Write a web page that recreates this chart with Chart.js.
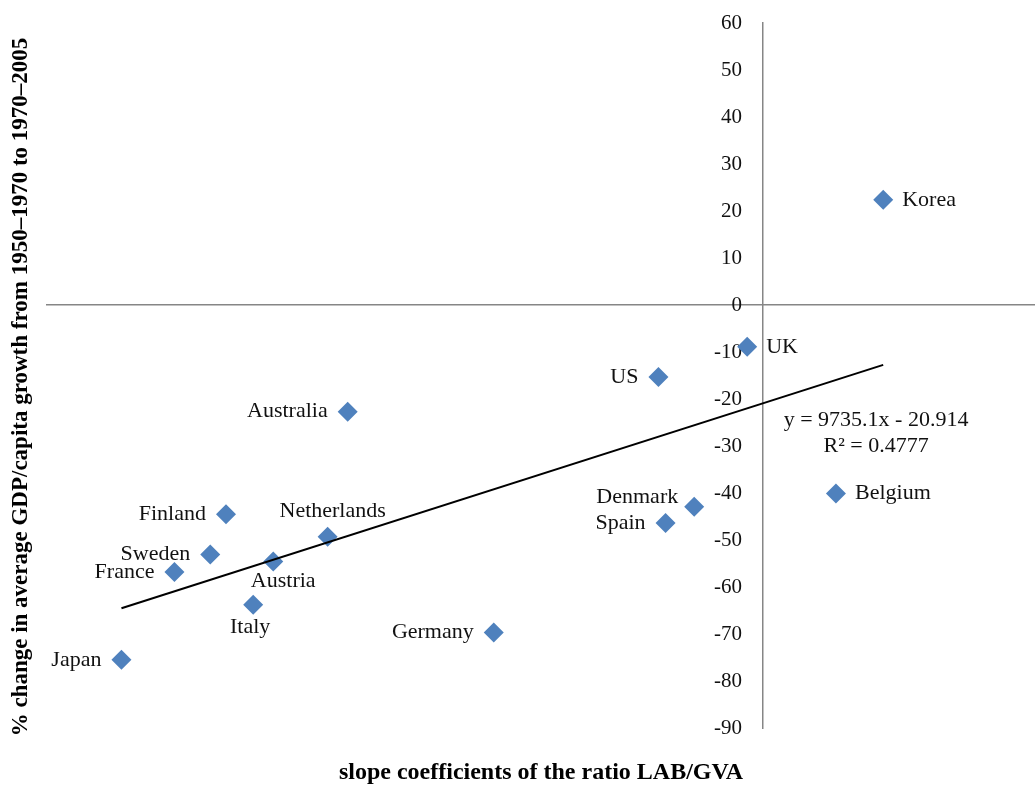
<!DOCTYPE html>
<html>
<head>
<meta charset="utf-8">
<script src="https://cdn.jsdelivr.net/npm/chart.js@4.4.0/dist/chart.umd.min.js"></script>
<style>
  html, body { margin: 0; padding: 0; background: #fff; }
</style>
</head>
<body>
<canvas id="myChartScatter" width="1035" height="785"></canvas>
<script>
// countries and their values
const countries = ['Japan', 'France', 'Sweden', 'Finland', 'Italy', 'Austria', 'Netherlands',
  'Australia', 'Germany', 'US', 'Spain', 'Denmark', 'UK', 'Belgium', 'Korea'];
const slopeCoef = [-0.00448, -0.00411, -0.00386, -0.00375, -0.00356, -0.00342, -0.00304,
  -0.00290, -0.00188, -0.00073, -0.00068, -0.00048, -0.00011, 0.00051, 0.00084];
const growthChange = [-75.5, -56.8, -53.1, -44.5, -63.8, -54.6, -49.3,
  -22.7, -69.7, -15.3, -46.4, -42.9, -8.9, -40.1, 22.4];

// where each country name goes relative to its marker
const labelSide = ['left', 'left', 'left', 'left', 'below', 'belowRight', 'above',
  'left', 'left', 'left', 'left', 'upLeft', 'right', 'right', 'right'];

// linear trend (least squares) as printed on the chart
const trendSlope = 9735.1;
const trendIntercept = -20.914;
const trendR2 = 0.4777;

// y axis
const yMin = -90;
const yMax = 60;
const yStep = 10;
// x axis range
const xMin = -0.005;
const xMax = 0.0019;

const xTitle = 'slope coefficients of the ratio LAB/GVA';
const yTitle = '% change in average GDP/capita growth from 1950\u20131970 to 1970\u20132005';

const serif = '"Liberation Serif", "Times New Roman", serif';

let points = [];
for (let i in countries) {
    points[i] = { x: slopeCoef[i], y: growthChange[i] };
}

let xLo = Math.min.apply(null, slopeCoef);
let xHi = Math.max.apply(null, slopeCoef);
let trendPoints = [
    { x: xLo, y: trendSlope * xLo + trendIntercept },
    { x: xHi, y: trendSlope * xHi + trendIntercept }
];

// country names next to the markers
const pointLabels = {
    id: 'pointLabels',
    afterDatasetsDraw(chart) {
        let ctx = chart.ctx;
        let meta = chart.getDatasetMeta(1);
        ctx.save();
        ctx.font = '22px ' + serif;
        ctx.fillStyle = '#111';
        meta.data.forEach(function (pt, i) {
            let x = pt.x, y = pt.y;
            ctx.textBaseline = 'middle';
            switch (labelSide[i]) {
                case 'left':
                    ctx.textAlign = 'right'; x -= 20; break;
                case 'upLeft':
                    ctx.textAlign = 'right'; x -= 16; y -= 9; break;
                case 'right':
                    ctx.textAlign = 'left'; x += 19; break;
                case 'above':
                    ctx.textAlign = 'center'; x += 5; y -= 25; break;
                case 'below':
                    ctx.textAlign = 'center'; x -= 3; y += 22; break;
                case 'belowRight':
                    ctx.textAlign = 'center'; x += 10; y += 20; break;
            }
            ctx.fillText(countries[i], x, y);
        });

        // trendline equation
        let xs = chart.scales.x, ys = chart.scales.y;
        let ex = xs.getPixelForValue(0.00079);
        ctx.textAlign = 'center';
        ctx.fillText('y = ' + trendSlope + 'x - ' + Math.abs(trendIntercept), ex, ys.getPixelForValue(-24.5));
        ctx.fillText('R\u00b2 = ' + trendR2, ex, ys.getPixelForValue(-30));
        ctx.restore();
    }
};

// axis titles, outside the plot area
const axisTitles = {
    id: 'axisTitles',
    afterDraw(chart) {
        let ctx = chart.ctx;
        ctx.save();
        ctx.fillStyle = '#000';
        ctx.textAlign = 'center';
        ctx.textBaseline = 'middle';
        ctx.font = 'bold 24px ' + serif;
        ctx.fillText(xTitle, 541, 773);
        ctx.font = 'bold 23px ' + serif;
        ctx.translate(21, 387);
        ctx.rotate(-Math.PI / 2);
        ctx.fillText(yTitle, 0, 0);
        ctx.restore();
    }
};

let canvas = document.getElementById('myChartScatter');
let myChartScatter = new Chart(canvas, {
    type: 'scatter',
    data: {
        datasets: [{
            type: 'line',
            label: 'Linear trend',
            data: trendPoints,
            borderColor: '#000',
            borderWidth: 2,
            pointRadius: 0,
            fill: false
        }, {
            label: 'Countries',
            data: points,
            pointStyle: 'rectRot',
            pointRadius: 10,
            pointHoverRadius: 10,
            backgroundColor: '#4F81BD',
            borderColor: '#4F81BD',
            borderWidth: 0
        }]
    },
    options: {
        responsive: false,
        animation: false,
        layout: {
            autoPadding: false,
            padding: { left: 47, right: 0, top: 23, bottom: 57 }
        },
        plugins: {
            legend: { display: false },
            tooltip: { enabled: false }
        },
        scales: {
            x: {
                type: 'linear',
                min: xMin,
                max: xMax,
                position: { y: 0 },
                grid: { display: false, drawTicks: false },
                border: { color: '#868686', width: 1.5 },
                ticks: { display: false }
            },
            y: {
                type: 'linear',
                min: yMin,
                max: yMax,
                position: { x: 0 },
                grid: { display: false, drawTicks: false },
                border: { color: '#868686', width: 1.5 },
                ticks: {
                    stepSize: yStep,
                    color: '#111',
                    font: { family: serif, size: 21 },
                    // labels sit to the left of the axis line
                    callback: function (value) {
                        return value + '\u2002\u2002';
                    }
                }
            }
        }
    },
    plugins: [pointLabels, axisTitles]
});
</script>
</body>
</html>
